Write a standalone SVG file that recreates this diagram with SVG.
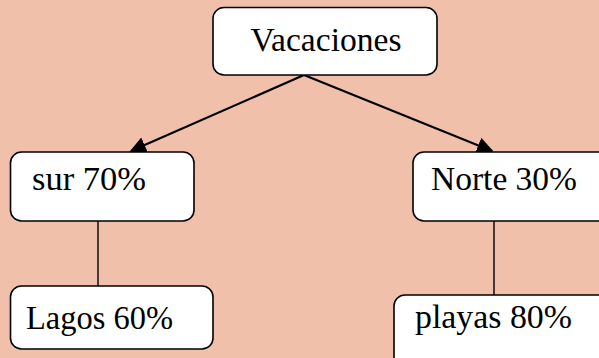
<svg xmlns="http://www.w3.org/2000/svg" width="599" height="358" viewBox="0 0 599 358">
<defs>
<style>
.box{fill:#ffffff;stroke:#000000;stroke-width:1.6}
.lbl{font-family:"Liberation Serif","Times New Roman",serif;font-size:34px;fill:#000000}
.edge{stroke:#000000;stroke-width:2.2;fill:none}
.tree{stroke:#000000;stroke-width:1.4;fill:none}
</style>
<marker id="ah" viewBox="0 0 10 10" refX="9" refY="5" markerWidth="7.5" markerHeight="7.5" markerUnits="strokeWidth" orient="auto">
<path d="M0,0 L10,5 L0,10 z" fill="#000000"/>
</marker>
</defs>
<rect width="599" height="358" fill="#F0C0AB"/>
<g id="connectors">
<line class="edge" x1="304" y1="75" x2="131" y2="151" marker-end="url(#ah)"/>
<line class="edge" x1="304" y1="75" x2="492" y2="151" marker-end="url(#ah)"/>
<line class="tree" x1="98" y1="221" x2="98" y2="296"/>
<line class="tree" x1="494" y1="221" x2="494" y2="295"/>
</g>
<g id="vacaciones">
<rect class="box" x="213" y="7.5" width="224" height="67.5" rx="11"/>
<text class="lbl" x="326" y="51" text-anchor="middle" textLength="151" lengthAdjust="spacingAndGlyphs">Vacaciones</text>
</g>
<g id="sur">
<rect class="box" x="10.5" y="152" width="183.5" height="69" rx="11"/>
<text class="lbl" x="32" y="190" textLength="114" lengthAdjust="spacingAndGlyphs">sur 70%</text>
</g>
<g id="norte">
<rect class="box" x="413" y="152" width="200" height="69" rx="11"/>
<text class="lbl" x="431" y="190" textLength="146" lengthAdjust="spacingAndGlyphs">Norte 30%</text>
</g>
<g id="lagos">
<rect class="box" x="10.5" y="286" width="202.5" height="63" rx="11"/>
<text class="lbl" x="26" y="329" textLength="147" lengthAdjust="spacingAndGlyphs">Lagos 60%</text>
</g>
<g id="playas">
<rect class="box" x="394" y="295" width="220" height="80" rx="11"/>
<text class="lbl" x="415" y="328" textLength="157" lengthAdjust="spacingAndGlyphs">playas 80%</text>
</g>
</svg>
